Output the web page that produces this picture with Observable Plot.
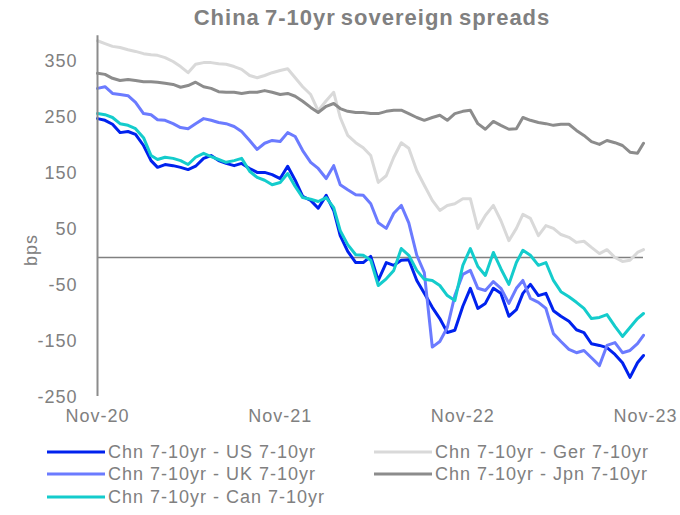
<!DOCTYPE html>
<html>
<head>
<meta charset="utf-8">
<script src="https://cdn.jsdelivr.net/npm/d3@7"></script>
<script src="https://cdn.jsdelivr.net/npm/@observablehq/plot@0.6"></script>
<style>
  body { margin: 0; background: #fff; font-family: "Liberation Sans", Arial, sans-serif; }
  #wrap { position: relative; width: 680px; height: 515px; overflow: hidden; }
  #title { position: absolute; left: 32px; top: 5px; width: 680px; text-align: center;
           font-weight: bold; font-size: 22px; color: #808080; letter-spacing: 1px; word-spacing: -2px; }
  #chart { position: absolute; left: 0; top: 0; }
  #ylab { position: absolute; left: 31px; top: 250px; transform: translate(-50%, -50%) rotate(-90deg);
          font-size: 18px; color: #808080; letter-spacing: 1px; }
  .leg { position: absolute; display: flex; align-items: center; font-size: 18px; color: #808080;
         white-space: nowrap; letter-spacing: 1px; }
  .leg svg { margin-right: 3px; }
</style>
</head>
<body>
<div id="wrap">
  <div id="chart"></div>
  <div id="title">China 7-10yr sovereign spreads</div>
  <div id="ylab">bps</div>
  <div id="legend"></div>
</div>
<script>
// Observation dates (roughly twice a month)
const dates = [
  "2020-11-01","2020-11-16","2020-12-01","2020-12-16","2021-01-01","2021-01-16","2021-02-01","2021-02-16",
  "2021-03-01","2021-03-16","2021-04-01","2021-04-16","2021-05-01","2021-05-16","2021-06-01","2021-06-16",
  "2021-07-01","2021-07-16","2021-08-01","2021-08-16","2021-09-01","2021-09-16","2021-10-01","2021-10-16",
  "2021-11-01","2021-11-16","2021-12-01","2021-12-16","2022-01-01","2022-01-16","2022-02-01","2022-02-16",
  "2022-03-01","2022-03-16","2022-04-01","2022-04-16","2022-05-01","2022-05-16","2022-06-01","2022-06-16",
  "2022-07-01","2022-07-16","2022-08-01","2022-08-16","2022-09-01","2022-09-16","2022-10-01","2022-10-16",
  "2022-11-01","2022-11-16","2022-12-01","2022-12-16","2023-01-01","2023-01-16","2023-02-01","2023-02-16",
  "2023-03-01","2023-03-16","2023-04-01","2023-04-16","2023-05-01","2023-05-16","2023-06-01","2023-06-16",
  "2023-07-01","2023-07-16","2023-08-01","2023-08-16","2023-09-01","2023-09-16","2023-10-01","2023-10-16",
  "2023-10-28"
];

// Spreads in basis points
const chnUS = [
  248,245,238,223,225,220,200,173,161,166,164,161,157,163,177,182,173,168,164,168,159,152,152,148,
  141,163,138,109,102,88,111,84,39,11,-9,-9,2,-41,-9,-14,-5,-4,-41,-64,-89,-109,-134,-130,
  -87,-55,-91,-82,-55,-64,-105,-93,-64,-48,-68,-64,-95,-105,-114,-129,-134,-154,-157,-161,-173,-188,-214,-188,
  -175
];
const chnGer = [
  387,382,377,375,371,368,364,362,361,357,350,341,330,345,348,348,346,345,341,336,325,321,325,330,
  334,337,321,305,291,262,280,295,250,218,205,196,182,134,146,179,205,195,155,129,102,84,93,96,
  105,105,52,75,93,66,30,52,77,70,39,57,52,41,36,27,29,18,7,14,0,-7,-5,9,
  14
];
const chnUK = [
  302,305,293,291,289,277,257,255,246,245,239,232,230,239,248,245,241,239,234,225,209,193,204,209,
  207,223,216,191,170,159,141,164,130,121,112,111,96,62,52,79,93,62,4,-27,-160,-150,-125,-68,
  -30,-23,-55,-59,-43,-55,-82,-55,-41,-73,-80,-91,-136,-150,-164,-170,-166,-179,-193,-157,-152,-170,-166,-154,
  -139
];
const chnJpn = [
  329,327,320,316,318,316,314,314,313,311,309,304,307,313,305,302,296,295,295,293,295,295,298,295,
  291,293,288,279,268,259,270,275,266,261,259,259,257,257,261,263,263,257,250,245,250,254,245,257,
  261,263,239,229,243,236,229,230,250,245,241,239,236,238,238,227,218,207,202,209,205,200,188,186,
  204
];
const chnCan = [
  257,255,250,239,236,230,214,182,175,179,177,173,166,179,186,180,175,170,173,177,154,143,138,130,
  134,150,127,107,104,100,107,89,48,23,5,4,-5,-50,-38,-23,16,4,-23,-39,-41,-50,-68,-77,
  -14,16,-16,-32,9,-20,-48,-9,13,4,-14,-9,-41,-61,-70,-80,-91,-109,-107,-102,-123,-141,-125,-109,
  -100
];

const seriesNames = [
  "Chn 7-10yr - US 7-10yr",
  "Chn 7-10yr - Ger 7-10yr",
  "Chn 7-10yr - UK 7-10yr",
  "Chn 7-10yr - Jpn 7-10yr",
  "Chn 7-10yr - Can 7-10yr"
];
const seriesValues = [chnUS, chnGer, chnUK, chnJpn, chnCan];
const seriesColors = ["#0022ee", "#d9d9d9", "#6b7bff", "#8c8c8c", "#14cccc"];

const xTickLabels = ["2020-11-01", "2021-11-01", "2022-11-01", "2023-11-01"];
const yTickValues = [-250, -150, -50, 50, 150, 250, 350];

const parse = d3.utcParse("%Y-%m-%d");
const rows = seriesNames.flatMap((name, k) =>
  dates.map((d, i) => ({series: name, date: parse(d), value: seriesValues[k][i]}))
);

const x0 = parse("2020-11-01");
const x1 = parse("2023-11-01");

const chart = Plot.plot({
  width: 680,
  height: 435,
  marginLeft: 97,
  marginRight: 35,
  marginTop: 33,
  marginBottom: 38,
  style: {fontFamily: "'Liberation Sans', Arial, sans-serif", fontSize: "18px", color: "#808080",
          background: "transparent", letterSpacing: "1px"},
  x: {type: "utc", domain: [x0, x1]},
  y: {domain: [-250, 400]},
  color: {domain: seriesNames, range: seriesColors},
  marks: [
    Plot.axisX({ticks: xTickLabels.map(parse), tickFormat: d3.utcFormat("%b-%y"), tickSize: 0, tickPadding: 12,
                label: null, fill: "#808080"}),
    Plot.axisY({ticks: yTickValues, tickFormat: d => String(d), tickSize: 0, tickPadding: 20,
                label: null, fill: "#808080"}),
    Plot.ruleY([0], {x1: x0, x2: parse("2023-10-28"), stroke: "#808080", strokeWidth: 1.5}),
    Plot.line(rows, {x: "date", y: "value", z: "series", stroke: "series", strokeWidth: 3, strokeLinejoin: "round"}),
    Plot.ruleX([x0], {y1: -248, y2: 396, stroke: "#8c8c8c", strokeWidth: 2})
  ]
});
document.getElementById("chart").appendChild(chart);

// Legend: two columns, filled row by row
const legend = document.getElementById("legend");
const legendPos = [[47, 452], [374, 452], [47, 474], [374, 474], [47, 497]];
seriesNames.forEach((label, k) => {
  const div = document.createElement("div");
  div.className = "leg";
  div.style.left = legendPos[k][0] + "px";
  div.style.top = (legendPos[k][1] - 11) + "px";
  div.style.height = "22px";
  div.innerHTML = `<svg width="58" height="6"><line x1="0" x2="58" y1="3" y2="3" stroke="${seriesColors[k]}" stroke-width="3"/></svg><span>${label}</span>`;
  legend.appendChild(div);
});
</script>
</body>
</html>
